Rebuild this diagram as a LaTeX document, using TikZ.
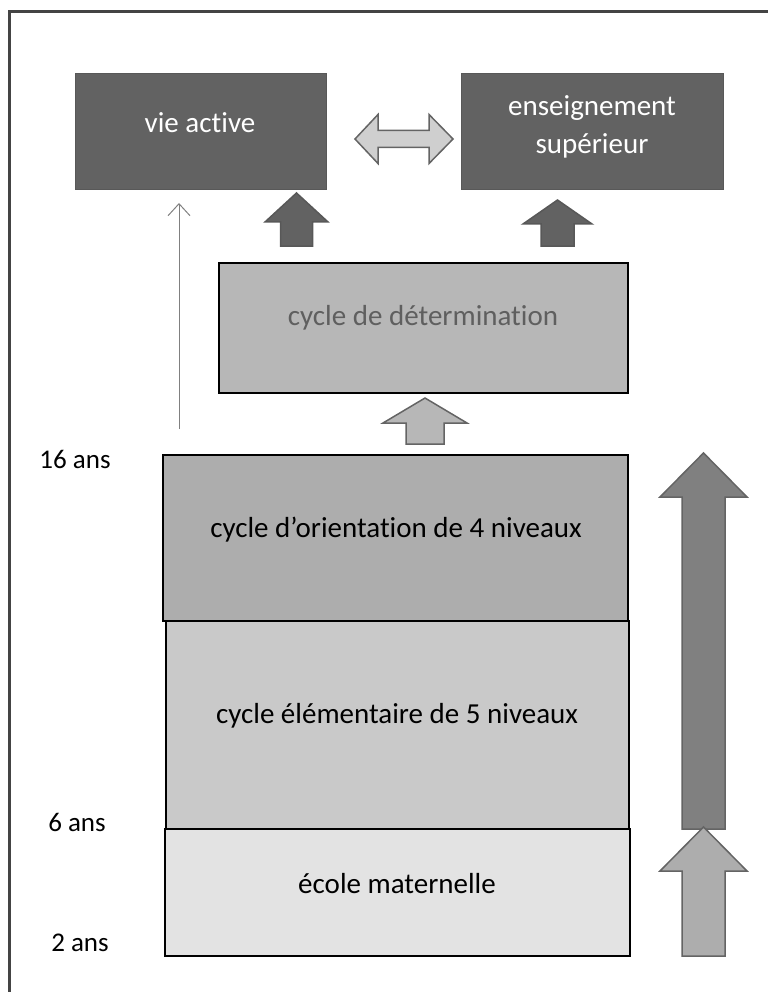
\documentclass[tikz,border=0pt]{standalone}
\usepackage{fontspec}
\setmainfont{Carlito}[Ligatures=NoCommon]
\usetikzlibrary{arrows.meta}

\definecolor{darkfill}{HTML}{626262}
\definecolor{darkline}{HTML}{585858}
\definecolor{detfill}{HTML}{B7B7B7}
\definecolor{dettext}{HTML}{5F5F5F}
\definecolor{orifill}{HTML}{ADADAD}
\definecolor{elemfill}{HTML}{C9C9C9}
\definecolor{matfill}{HTML}{E3E3E3}
\definecolor{bigfill}{HTML}{808080}
\definecolor{arrline}{HTML}{646464}
\definecolor{frameline}{HTML}{444444}

\begin{document}
\begin{tikzpicture}[
        x=1pt, y=-1pt,
        darkbox/.style={draw=darkline, line width=1pt, fill=darkfill, inner sep=0pt, outer sep=0pt},
        levelbox/.style={draw=black, line width=2pt, inner sep=0pt, outer sep=0pt},
        boxtext/.style={font=\fontsize{29}{38}\selectfont, align=center, inner sep=0pt},
        agelabel/.style={font=\fontsize{27}{30}\selectfont, inner sep=0pt},
        blockarrow/.style={line width=1.5pt, line join=miter},
        thinarrow/.style={draw=bigfill, line width=1pt, -{Straight Barb[length=12pt, width=22pt]}}
    ]
        \useasboundingbox (0,0) rectangle (768,992);

        % cadre
        \draw[frameline, line width=3pt] (9,992) -- (9,12) -- (768,12);

        % sorties
        \node[darkbox, minimum width=251pt, minimum height=116pt] (vie) at (200.5,132) {};
        \node[darkbox, minimum width=262pt, minimum height=116pt] (sup) at (592,132) {};
        \node[boxtext, text=white] (vie-txt) at (200,123) {vie active};
        \node[boxtext, text=white] (sup-txt) at (592,127) {enseignement\\supérieur};

        % cycles
        \node[levelbox, fill=detfill, minimum width=409pt, minimum height=130pt] (det) at (423.5,328) {};
        \node[levelbox, fill=orifill, minimum width=465pt, minimum height=166pt] (ori) at (395.5,538) {};
        \node[levelbox, fill=elemfill, minimum width=463pt, minimum height=208pt] (elem) at (397.5,725) {};
        \node[levelbox, fill=matfill, minimum width=465pt, minimum height=127pt] (mat) at (397.5,892.5) {};
        \node[boxtext, text=dettext] (det-txt) at (423,318) {cycle de détermination};
        \node[boxtext] (ori-txt) at (396,530) {cycle d’orientation de 4 niveaux};
        \node[boxtext] (elem-txt) at (397,716) {cycle élémentaire de 5 niveaux};
        \node[boxtext] (mat-txt) at (397,884) {école maternelle};

        % âges
        \node[agelabel] (age16) at (75,459) {16 ans};
        \node[agelabel] (age6) at (77,822) {6 ans};
        \node[agelabel] (age2) at (80,943) {2 ans};

        % flèches
        \draw[blockarrow, draw=arrline, fill=matfill!80!gray] (355,139) -- (378,114.5) -- (378,130.5) -- (429,130.5) -- (429,114.5)
            -- (453,139) -- (429,163.5) -- (429,147.5) -- (378,147.5) -- (378,163.5) -- cycle;
        \draw[blockarrow, draw=darkline, fill=darkfill] (296.5,193) -- (328,222) -- (312.5,222) -- (312.5,246) -- (280.5,246) -- (280.5,222) -- (265,222) -- cycle;
        \draw[blockarrow, draw=darkline, fill=darkfill] (557.5,200) -- (592,224) -- (574,224) -- (574,246) -- (541,246) -- (541,224) -- (523,224) -- cycle;
        \draw[blockarrow, draw=arrline, fill=detfill] (425,398) -- (467,423) -- (444,423) -- (444,444) -- (406,444) -- (406,423) -- (383,423) -- cycle;
        \draw[blockarrow, draw=arrline, fill=bigfill] (703.5,453) -- (747,497) -- (725,497) -- (725,829) -- (682,829) -- (682,497) -- (660,497) -- cycle;
        \draw[blockarrow, draw=arrline, fill=orifill] (703.5,827) -- (747,871) -- (725,871) -- (725,956) -- (682,956) -- (682,871) -- (660,871) -- cycle;

        \coordinate (thin-bot) at (179,429);
        \coordinate (thin-top) at (179,203);
        \draw[thinarrow] (thin-bot) -- (thin-top);
    \end{tikzpicture}
\end{document}
